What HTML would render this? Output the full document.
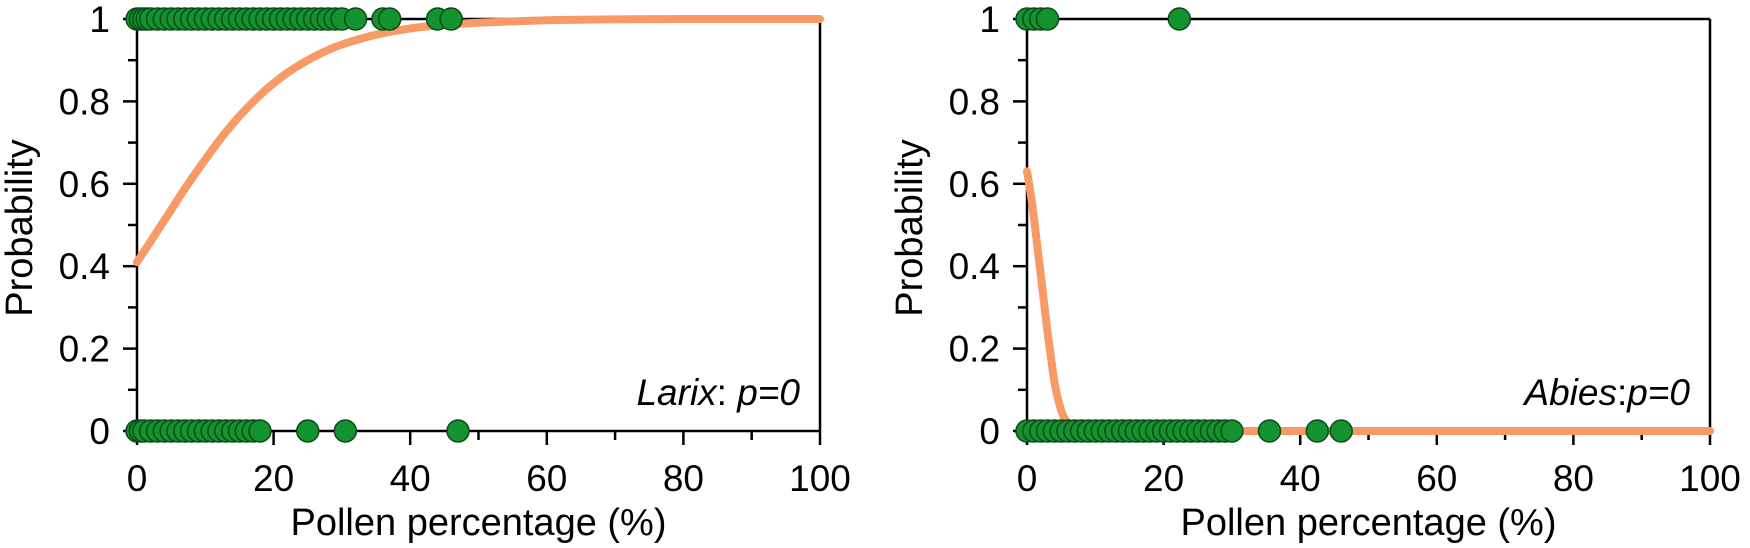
<!DOCTYPE html>
<html><head><meta charset="utf-8"><style>
html,body{margin:0;padding:0;background:#fff;}
svg{display:block;font-family:"Liberation Sans",Arial,sans-serif;}
</style></head><body>
<svg id="chart" width="1750" height="548" viewBox="0 0 1750 548" xmlns="http://www.w3.org/2000/svg"></svg>
<script>
const xTicks = [0, 20, 40, 60, 80, 100];
const yTicks = [0, 0.2, 0.4, 0.6, 0.8, 1];
const yTickLabels = ["0", "0.2", "0.4", "0.6", "0.8", "1"];
const larixCurveX = [0, 2.5, 5, 7.5, 10, 12.5, 15, 17.5, 20, 22.5, 25, 27.5, 30, 35, 40, 45, 50, 60, 70, 80, 100];
const larixCurveP = [0.41, 0.473, 0.537, 0.600, 0.659, 0.715, 0.764, 0.807, 0.844, 0.875, 0.900, 0.921, 0.938, 0.962, 0.977, 0.986, 0.991, 0.997, 0.999, 1, 1];
const abiesCurveX = [0, 0.5, 1, 1.5, 2, 2.5, 3, 3.5, 4, 4.5, 5, 5.5, 6, 7, 8, 10, 100];
const abiesCurveP = [0.63, 0.58, 0.52, 0.45, 0.38, 0.31, 0.24, 0.18, 0.12, 0.08, 0.05, 0.03, 0.02, 0.005, 0.001, 0, 0];
const larixPresent = [0,0.5,1,1.5,2,3,4,5,6,7,8,9,10,11,12,13,14,15,16,17,18,19,20,21,22,23,24,25,26,27,28,29,30,32,36,37,44,46];
const larixAbsent = [0,0.5,1,2,3,4,5,6,7,8,9,10,11,12,13,14,15,16,17,18,25,30.5,47];
const abiesPresent = [0,1,2,3,22.3];
const abiesAbsent = [0,1,2,3,4,5,6,7,8,9,10,11,12,13,14,15,16,17,18,19,20,21,22,23,24,25,26,27,28,29,30,35.5,42.5,46];

const NS = "http://www.w3.org/2000/svg";
const svg = document.getElementById('chart');
function mk(tag, attrs, parent){const e=document.createElementNS(NS,tag);for(const k in attrs)e.setAttribute(k,attrs[k]);(parent||svg).appendChild(e);return e;}

function smoothPath(pts){
  let d='M'+pts[0][0].toFixed(1)+' '+pts[0][1].toFixed(1);
  for(let i=0;i<pts.length-1;i++){
    const p0=pts[i-1]||pts[i], p1=pts[i], p2=pts[i+1], p3=pts[i+2]||p2;
    const c1=[p1[0]+(p2[0]-p0[0])/6, p1[1]+(p2[1]-p0[1])/6];
    const c2=[p2[0]-(p3[0]-p1[0])/6, p2[1]-(p3[1]-p1[1])/6];
    d+=` C${c1[0].toFixed(1)} ${c1[1].toFixed(1)} ${c2[0].toFixed(1)} ${c2[1].toFixed(1)} ${p2[0].toFixed(1)} ${p2[1].toFixed(1)}`;
  }
  return d;
}

function panel(x0, x100, name, curveX, curveP, pres, abs, label){
  const yTop=19, yBot=431;
  const sx=v=>x0+(x100-x0)*v/100;
  const sy=v=>yBot-(yBot-yTop)*v;
  const g=mk('g',{});
  
  
  let l=mk('line',{x1:x0,y1:yTop,x2:x0,y2:yBot,stroke:'#000','stroke-width':2.5},g);
  
  
  l=mk('line',{x1:x100,y1:yTop,x2:x100,y2:yBot,stroke:'#000','stroke-width':2.5},g);
  
  
  l=mk('line',{x1:x0,y1:sy(1),x2:x100,y2:sy(1),stroke:'#000','stroke-width':2.5},g);
  
  
  l=mk('line',{x1:x0,y1:sy(0),x2:x100,y2:sy(0),stroke:'#000','stroke-width':2.5},g);
  
  
  for(let i=0;i<=10;i++){
    const v=i/10, major=i%2===0;
    const t=mk('line',{x1:x0-(major?14:9),y1:sy(v),x2:x0,y2:sy(v),stroke:'#000','stroke-width':2.5},g);
    
    
  }
  yTicks.forEach((v,i)=>{
    const t=mk('text',{x:x0-27,y:sy(v)+13,'text-anchor':'end','font-size':37,fill:'#000'},g);
    t.textContent=yTickLabels[i];
    
    
  });
  for(let i=0;i<=10;i++){
    const v=i*10, major=i%2===0;
    const t=mk('line',{x1:sx(v),y1:yBot,x2:sx(v),y2:yBot+(major?14:9),stroke:'#000','stroke-width':2.5},g);
    
    
  }
  xTicks.forEach(v=>{
    const t=mk('text',{x:sx(v),y:491,'text-anchor':'middle','font-size':37,fill:'#000'},g);
    t.textContent=String(v);
    
    
  });
  let t=mk('text',{x:(x0+x100)/2,y:535,'text-anchor':'middle','font-size':38,fill:'#000'},g);
  t.textContent='Pollen percentage (%)';
  
  
  t=mk('text',{x:0,y:0,'text-anchor':'middle','font-size':38,fill:'#000',transform:`translate(${x0-105},228) rotate(-90)`},g);
  t.textContent='Probability';
  
  
  const pts=curveX.map((v,i)=>[sx(v),sy(curveP[i])]);
  const c=mk('path',{d:smoothPath(pts),fill:'none',stroke:'#F79A66','stroke-width':8,'stroke-linecap':'round','stroke-linejoin':'round'},g);
  
  
  pres.forEach(v=>{
    const p=mk('circle',{cx:sx(v),cy:sy(1),r:11,fill:'#13922F',stroke:'#0B4A17','stroke-width':1.5},g);
    
    
  });
  abs.forEach(v=>{
    const p=mk('circle',{cx:sx(v),cy:sy(0),r:11,fill:'#13922F',stroke:'#0B4A17','stroke-width':1.5},g);
    
    
  });
  t=mk('text',{x:x100-20,y:405,'text-anchor':'end','font-size':37,fill:'#000'},g);
  
  
  const a=mk('tspan',{'font-style':'italic'},t);a.textContent=label;
  const b=mk('tspan',{},t);b.textContent=name==='larix'?': ':':';
  const c2=mk('tspan',{'font-style':'italic'},t);c2.textContent='p=0';
}
panel(137, 820, 'larix', larixCurveX, larixCurveP, larixPresent, larixAbsent, 'Larix');
panel(1027, 1710, 'abies', abiesCurveX, abiesCurveP, abiesPresent, abiesAbsent, 'Abies');
</script>
</body></html>
